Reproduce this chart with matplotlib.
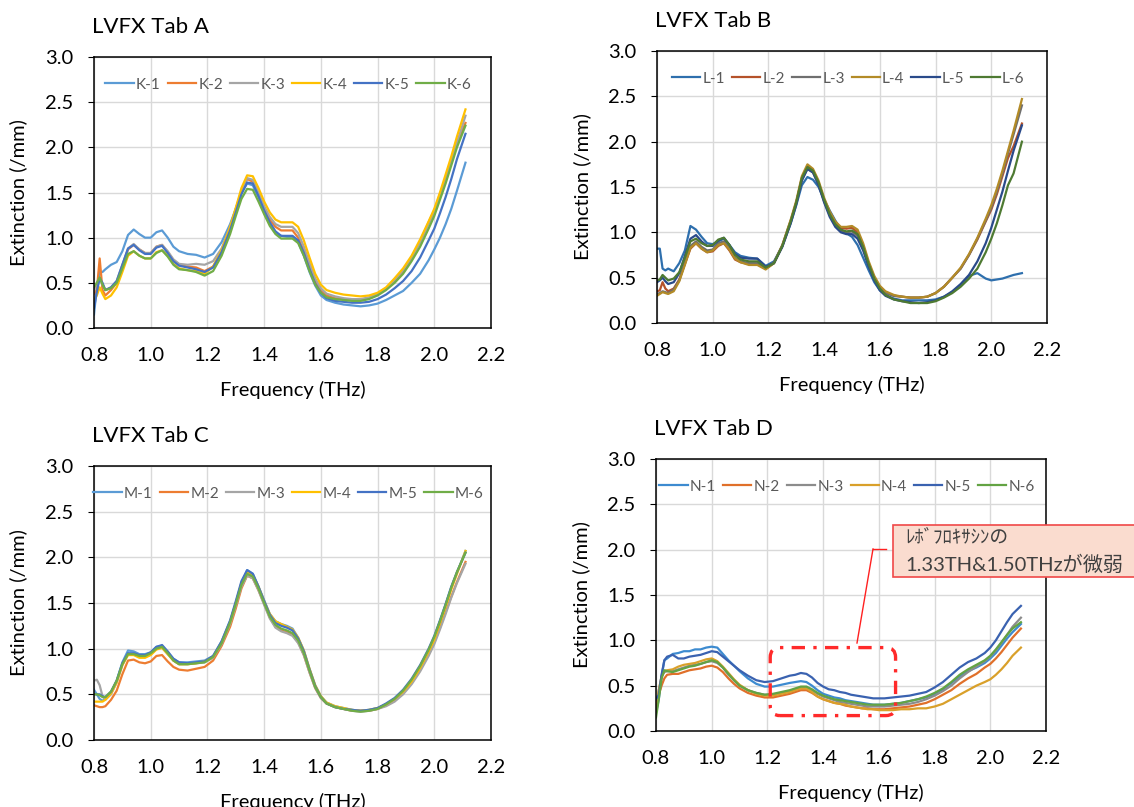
"""Extinction spectra of four LVFX tablets (A-D), six samples each."""

import matplotlib
matplotlib.use("Agg")
import matplotlib.pyplot as plt
from matplotlib.lines import Line2D
from matplotlib.patches import FancyBboxPatch, Rectangle

plt.rcParams["font.family"] = ["Lato", "Noto Sans CJK JP", "DejaVu Sans"]

# shared frequency grid (THz)
FREQ = [0.80, 0.81, 0.82, 0.83, 0.84, 0.86, 0.88, 0.90, 0.92, 0.94,
        0.96, 0.98, 1.00, 1.02, 1.04, 1.06, 1.08, 1.10, 1.13, 1.16,
        1.19, 1.22, 1.25, 1.28, 1.30, 1.32, 1.34, 1.36, 1.38, 1.40,
        1.42, 1.44, 1.46, 1.48, 1.50, 1.52, 1.54, 1.56, 1.58, 1.60,
        1.62, 1.65, 1.68, 1.71, 1.74, 1.77, 1.80, 1.83, 1.86, 1.89,
        1.92, 1.95, 1.98, 2.00, 2.02, 2.04, 2.06, 2.08, 2.11]

# --- Tab A ---
K1 = [0.15, 0.45, 0.62, 0.62, 0.65, 0.70, 0.73, 0.85, 1.03, 1.09,
      1.04, 1.00, 1.00, 1.06, 1.08, 1.00, 0.90, 0.85, 0.82, 0.81,
      0.78, 0.82, 0.95, 1.15, 1.32, 1.50, 1.60, 1.58, 1.45, 1.30,
      1.15, 1.05, 1.02, 1.01, 1.01, 0.95, 0.80, 0.62, 0.47, 0.36,
      0.31, 0.28, 0.26, 0.25, 0.24, 0.25, 0.27, 0.31, 0.36, 0.41,
      0.50, 0.60, 0.75, 0.87, 1.00, 1.15, 1.32, 1.52, 1.83]
K2 = [0.38, 0.42, 0.77, 0.42, 0.36, 0.42, 0.50, 0.68, 0.87, 0.92,
      0.87, 0.83, 0.83, 0.90, 0.92, 0.84, 0.75, 0.70, 0.68, 0.67,
      0.63, 0.68, 0.85, 1.10, 1.30, 1.50, 1.65, 1.62, 1.48, 1.32,
      1.20, 1.12, 1.08, 1.08, 1.08, 1.00, 0.85, 0.68, 0.52, 0.42,
      0.36, 0.33, 0.32, 0.31, 0.31, 0.33, 0.37, 0.43, 0.52, 0.63,
      0.78, 0.95, 1.17, 1.30, 1.48, 1.65, 1.85, 2.05, 2.27]
K3 = [0.42, 0.50, 0.55, 0.48, 0.42, 0.45, 0.52, 0.70, 0.88, 0.93,
      0.87, 0.83, 0.83, 0.90, 0.92, 0.85, 0.76, 0.71, 0.70, 0.71,
      0.70, 0.74, 0.88, 1.12, 1.32, 1.52, 1.66, 1.64, 1.50, 1.35,
      1.23, 1.15, 1.12, 1.12, 1.12, 1.05, 0.90, 0.72, 0.55, 0.44,
      0.38, 0.35, 0.33, 0.32, 0.32, 0.34, 0.38, 0.44, 0.53, 0.64,
      0.78, 0.95, 1.15, 1.28, 1.45, 1.63, 1.83, 2.05, 2.35]
K4 = [0.30, 0.36, 0.45, 0.38, 0.32, 0.36, 0.45, 0.62, 0.80, 0.85,
      0.80, 0.77, 0.77, 0.84, 0.86, 0.80, 0.71, 0.66, 0.64, 0.63,
      0.60, 0.68, 0.86, 1.12, 1.33, 1.55, 1.69, 1.68, 1.55, 1.40,
      1.28, 1.20, 1.17, 1.17, 1.17, 1.12, 0.97, 0.78, 0.60, 0.48,
      0.42, 0.39, 0.37, 0.36, 0.35, 0.36, 0.39, 0.45, 0.55, 0.66,
      0.80, 0.98, 1.18, 1.32, 1.50, 1.70, 1.90, 2.12, 2.42]
K5 = [0.22, 0.40, 0.55, 0.50, 0.42, 0.45, 0.52, 0.70, 0.88, 0.92,
      0.86, 0.82, 0.82, 0.89, 0.91, 0.83, 0.74, 0.69, 0.67, 0.65,
      0.62, 0.67, 0.84, 1.08, 1.28, 1.48, 1.61, 1.60, 1.46, 1.30,
      1.17, 1.07, 1.02, 1.02, 1.02, 0.97, 0.83, 0.65, 0.49, 0.39,
      0.33, 0.30, 0.29, 0.28, 0.28, 0.29, 0.32, 0.37, 0.44, 0.52,
      0.63, 0.78, 0.97, 1.10, 1.27, 1.45, 1.65, 1.87, 2.15]
K6 = [0.45, 0.50, 0.56, 0.48, 0.42, 0.44, 0.50, 0.66, 0.82, 0.85,
      0.80, 0.77, 0.77, 0.83, 0.86, 0.79, 0.70, 0.65, 0.64, 0.62,
      0.58, 0.63, 0.80, 1.04, 1.24, 1.43, 1.54, 1.53, 1.40, 1.26,
      1.13, 1.04, 0.99, 0.99, 0.99, 0.94, 0.80, 0.63, 0.48, 0.39,
      0.34, 0.32, 0.31, 0.30, 0.30, 0.32, 0.36, 0.42, 0.50, 0.60,
      0.74, 0.90, 1.10, 1.24, 1.42, 1.60, 1.80, 2.00, 2.24]

# --- Tab B ---
L1 = [0.82, 0.82, 0.60, 0.58, 0.60, 0.57, 0.66, 0.80, 1.07, 1.03,
      0.95, 0.88, 0.87, 0.90, 0.93, 0.86, 0.78, 0.74, 0.72, 0.71,
      0.63, 0.68, 0.85, 1.10, 1.30, 1.52, 1.61, 1.58, 1.50, 1.36,
      1.24, 1.13, 1.03, 0.99, 0.95, 0.86, 0.72, 0.58, 0.45, 0.36,
      0.31, 0.27, 0.25, 0.25, 0.25, 0.25, 0.26, 0.29, 0.34, 0.41,
      0.52, 0.55, 0.49, 0.47, 0.48, 0.49, 0.51, 0.53, 0.55]
L2 = [0.35, 0.36, 0.45, 0.38, 0.35, 0.38, 0.48, 0.65, 0.82, 0.88,
      0.82, 0.78, 0.79, 0.85, 0.88, 0.80, 0.70, 0.67, 0.65, 0.65,
      0.60, 0.66, 0.85, 1.12, 1.33, 1.60, 1.73, 1.68, 1.55, 1.35,
      1.20, 1.10, 1.05, 1.04, 1.05, 1.00, 0.85, 0.66, 0.50, 0.40,
      0.34, 0.30, 0.29, 0.28, 0.28, 0.29, 0.33, 0.40, 0.50, 0.60,
      0.75, 0.92, 1.12, 1.25, 1.42, 1.62, 1.82, 1.95, 2.20]
L3 = [0.32, 0.33, 0.35, 0.34, 0.33, 0.37, 0.47, 0.66, 0.85, 0.90,
      0.84, 0.80, 0.81, 0.88, 0.90, 0.82, 0.72, 0.68, 0.66, 0.66,
      0.60, 0.67, 0.86, 1.13, 1.33, 1.58, 1.70, 1.66, 1.53, 1.34,
      1.19, 1.08, 1.02, 1.00, 1.01, 0.96, 0.82, 0.64, 0.49, 0.39,
      0.33, 0.30, 0.29, 0.28, 0.28, 0.29, 0.33, 0.40, 0.50, 0.60,
      0.75, 0.93, 1.13, 1.27, 1.45, 1.65, 1.87, 2.08, 2.40]
L4 = [0.30, 0.32, 0.34, 0.33, 0.32, 0.35, 0.46, 0.64, 0.83, 0.88,
      0.82, 0.78, 0.80, 0.86, 0.88, 0.81, 0.71, 0.67, 0.64, 0.64,
      0.59, 0.66, 0.86, 1.14, 1.35, 1.62, 1.75, 1.70, 1.57, 1.38,
      1.23, 1.12, 1.06, 1.06, 1.07, 1.03, 0.88, 0.68, 0.52, 0.41,
      0.35, 0.31, 0.29, 0.28, 0.28, 0.29, 0.33, 0.40, 0.50, 0.61,
      0.76, 0.94, 1.15, 1.30, 1.48, 1.68, 1.90, 2.12, 2.47]
L5 = [0.45, 0.47, 0.50, 0.46, 0.43, 0.45, 0.55, 0.74, 0.93, 0.97,
      0.90, 0.85, 0.85, 0.91, 0.94, 0.86, 0.76, 0.72, 0.71, 0.71,
      0.62, 0.66, 0.84, 1.10, 1.31, 1.57, 1.70, 1.66, 1.52, 1.33,
      1.17, 1.06, 1.00, 0.98, 0.98, 0.93, 0.80, 0.62, 0.47, 0.36,
      0.30, 0.26, 0.24, 0.23, 0.22, 0.23, 0.25, 0.29, 0.35, 0.43,
      0.53, 0.68, 0.88, 1.05, 1.25, 1.45, 1.68, 1.90, 2.18]
L6 = [0.47, 0.48, 0.53, 0.50, 0.47, 0.49, 0.56, 0.72, 0.90, 0.93,
      0.88, 0.85, 0.86, 0.92, 0.94, 0.86, 0.75, 0.70, 0.68, 0.68,
      0.61, 0.66, 0.85, 1.12, 1.33, 1.60, 1.72, 1.68, 1.55, 1.36,
      1.20, 1.09, 1.03, 1.01, 1.02, 0.98, 0.84, 0.65, 0.49, 0.38,
      0.31, 0.26, 0.24, 0.22, 0.22, 0.22, 0.24, 0.28, 0.33, 0.40,
      0.49, 0.60, 0.78, 0.93, 1.10, 1.30, 1.52, 1.65, 2.00]

# --- Tab C ---
M1 = [0.55, 0.50, 0.45, 0.43, 0.45, 0.52, 0.65, 0.85, 0.98, 0.97,
      0.94, 0.94, 0.96, 1.02, 1.03, 0.96, 0.89, 0.85, 0.85, 0.86,
      0.87, 0.92, 1.08, 1.30, 1.50, 1.72, 1.86, 1.82, 1.68, 1.53,
      1.38, 1.30, 1.27, 1.25, 1.22, 1.12, 0.98, 0.78, 0.60, 0.48,
      0.41, 0.37, 0.35, 0.33, 0.32, 0.33, 0.35, 0.39, 0.45, 0.53,
      0.65, 0.80, 0.98, 1.12, 1.30, 1.48, 1.67, 1.83, 2.07]
M2 = [0.38, 0.37, 0.36, 0.36, 0.37, 0.44, 0.54, 0.72, 0.87, 0.88,
      0.85, 0.84, 0.86, 0.92, 0.93, 0.86, 0.80, 0.77, 0.76, 0.78,
      0.80, 0.87, 1.03, 1.24, 1.44, 1.66, 1.80, 1.77, 1.64, 1.49,
      1.34, 1.24, 1.20, 1.18, 1.15, 1.07, 0.93, 0.74, 0.57, 0.46,
      0.40, 0.36, 0.34, 0.32, 0.32, 0.32, 0.34, 0.38, 0.44, 0.52,
      0.63, 0.77, 0.94, 1.07, 1.23, 1.40, 1.57, 1.73, 1.95]
M3 = [0.65, 0.66, 0.60, 0.48, 0.44, 0.50, 0.63, 0.82, 0.94, 0.94,
      0.91, 0.91, 0.94, 1.00, 1.01, 0.94, 0.87, 0.83, 0.83, 0.84,
      0.85, 0.90, 1.05, 1.27, 1.47, 1.68, 1.80, 1.77, 1.64, 1.48,
      1.33, 1.23, 1.19, 1.17, 1.14, 1.06, 0.93, 0.74, 0.57, 0.46,
      0.40, 0.36, 0.34, 0.32, 0.31, 0.32, 0.34, 0.37, 0.42, 0.50,
      0.61, 0.75, 0.92, 1.05, 1.21, 1.38, 1.56, 1.72, 1.93]
M4 = [0.42, 0.42, 0.42, 0.42, 0.44, 0.51, 0.63, 0.82, 0.93, 0.93,
      0.90, 0.90, 0.93, 0.99, 1.01, 0.94, 0.87, 0.83, 0.83, 0.84,
      0.86, 0.91, 1.07, 1.29, 1.50, 1.72, 1.84, 1.81, 1.68, 1.52,
      1.38, 1.30, 1.27, 1.24, 1.21, 1.12, 0.98, 0.78, 0.60, 0.48,
      0.41, 0.37, 0.35, 0.33, 0.32, 0.33, 0.35, 0.39, 0.45, 0.53,
      0.64, 0.79, 0.97, 1.10, 1.28, 1.46, 1.65, 1.82, 2.07]
M5 = [0.50, 0.50, 0.50, 0.48, 0.47, 0.53, 0.65, 0.84, 0.95, 0.95,
      0.93, 0.93, 0.96, 1.02, 1.04, 0.97, 0.89, 0.85, 0.84, 0.85,
      0.86, 0.92, 1.08, 1.31, 1.52, 1.74, 1.86, 1.82, 1.68, 1.52,
      1.37, 1.28, 1.25, 1.23, 1.20, 1.11, 0.97, 0.77, 0.59, 0.47,
      0.40, 0.36, 0.34, 0.33, 0.32, 0.33, 0.35, 0.40, 0.46, 0.55,
      0.67, 0.82, 1.00, 1.14, 1.31, 1.49, 1.68, 1.84, 2.05]
M6 = [0.50, 0.50, 0.49, 0.47, 0.47, 0.53, 0.65, 0.83, 0.94, 0.94,
      0.92, 0.92, 0.95, 1.00, 1.02, 0.95, 0.87, 0.83, 0.83, 0.84,
      0.85, 0.91, 1.06, 1.29, 1.49, 1.70, 1.82, 1.79, 1.66, 1.50,
      1.35, 1.26, 1.22, 1.20, 1.17, 1.09, 0.95, 0.76, 0.58, 0.47,
      0.40, 0.36, 0.34, 0.32, 0.31, 0.32, 0.34, 0.39, 0.45, 0.54,
      0.66, 0.81, 0.99, 1.13, 1.30, 1.48, 1.67, 1.84, 2.05]

# --- Tab D ---
N1 = [0.20, 0.35, 0.60, 0.78, 0.80, 0.85, 0.86, 0.88, 0.88, 0.90,
      0.90, 0.92, 0.93, 0.92, 0.85, 0.78, 0.72, 0.66, 0.58, 0.52,
      0.49, 0.49, 0.51, 0.53, 0.54, 0.55, 0.54, 0.50, 0.45, 0.41,
      0.39, 0.37, 0.36, 0.34, 0.33, 0.32, 0.31, 0.30, 0.29, 0.29,
      0.29, 0.30, 0.31, 0.33, 0.35, 0.37, 0.41, 0.46, 0.53, 0.60,
      0.66, 0.70, 0.75, 0.80, 0.86, 0.94, 1.02, 1.09, 1.18]
N2 = [0.30, 0.40, 0.50, 0.58, 0.62, 0.63, 0.63, 0.65, 0.67, 0.68,
      0.69, 0.71, 0.72, 0.70, 0.65, 0.58, 0.52, 0.47, 0.42, 0.39,
      0.37, 0.37, 0.39, 0.41, 0.43, 0.45, 0.45, 0.42, 0.38, 0.35,
      0.33, 0.31, 0.30, 0.28, 0.27, 0.26, 0.25, 0.25, 0.24, 0.24,
      0.24, 0.25, 0.26, 0.27, 0.29, 0.31, 0.35, 0.40, 0.45, 0.52,
      0.58, 0.63, 0.70, 0.74, 0.80, 0.87, 0.95, 1.03, 1.13]
N3 = [0.25, 0.45, 0.60, 0.65, 0.66, 0.66, 0.68, 0.70, 0.72, 0.73,
      0.74, 0.76, 0.77, 0.75, 0.70, 0.62, 0.56, 0.50, 0.45, 0.42,
      0.40, 0.40, 0.42, 0.44, 0.46, 0.48, 0.48, 0.45, 0.41, 0.38,
      0.36, 0.34, 0.32, 0.31, 0.30, 0.29, 0.28, 0.27, 0.27, 0.27,
      0.27, 0.28, 0.29, 0.30, 0.32, 0.35, 0.39, 0.44, 0.50, 0.58,
      0.65, 0.71, 0.77, 0.82, 0.89, 0.97, 1.06, 1.15, 1.25]
N4 = [0.22, 0.45, 0.60, 0.66, 0.67, 0.68, 0.71, 0.73, 0.74, 0.75,
      0.77, 0.79, 0.80, 0.77, 0.71, 0.64, 0.57, 0.51, 0.45, 0.41,
      0.39, 0.39, 0.41, 0.43, 0.45, 0.47, 0.47, 0.43, 0.38, 0.35,
      0.33, 0.31, 0.30, 0.29, 0.27, 0.26, 0.25, 0.24, 0.24, 0.23,
      0.23, 0.23, 0.24, 0.24, 0.25, 0.25, 0.27, 0.30, 0.35, 0.40,
      0.45, 0.50, 0.54, 0.57, 0.62, 0.68, 0.75, 0.83, 0.92]
N5 = [0.35, 0.40, 0.62, 0.78, 0.82, 0.84, 0.80, 0.80, 0.82, 0.83,
      0.84, 0.86, 0.88, 0.87, 0.82, 0.77, 0.72, 0.67, 0.61, 0.56,
      0.54, 0.55, 0.58, 0.61, 0.62, 0.64, 0.63, 0.59, 0.53, 0.49,
      0.46, 0.45, 0.43, 0.42, 0.40, 0.39, 0.38, 0.37, 0.36, 0.36,
      0.36, 0.37, 0.38, 0.39, 0.41, 0.43, 0.48, 0.54, 0.62, 0.70,
      0.76, 0.80, 0.86, 0.92, 1.00, 1.10, 1.20, 1.29, 1.38]
N6 = [0.15, 0.35, 0.58, 0.67, 0.66, 0.65, 0.67, 0.69, 0.71, 0.72,
      0.74, 0.76, 0.78, 0.76, 0.70, 0.63, 0.56, 0.50, 0.45, 0.42,
      0.40, 0.41, 0.43, 0.45, 0.47, 0.49, 0.49, 0.46, 0.42, 0.39,
      0.37, 0.35, 0.34, 0.33, 0.32, 0.31, 0.30, 0.29, 0.29, 0.29,
      0.29, 0.30, 0.31, 0.33, 0.35, 0.38, 0.42, 0.47, 0.54, 0.62,
      0.68, 0.73, 0.78, 0.83, 0.90, 0.98, 1.06, 1.13, 1.20]

LABELS_A = ["K-1", "K-2", "K-3", "K-4", "K-5", "K-6"]
LABELS_B = ["L-1", "L-2", "L-3", "L-4", "L-5", "L-6"]
LABELS_C = ["M-1", "M-2", "M-3", "M-4", "M-5", "M-6"]
LABELS_D = ["N-1", "N-2", "N-3", "N-4", "N-5", "N-6"]

COLOURS_LIGHT = ["#5B9BD5", "#ED7D31", "#A5A5A5", "#FFC000", "#4472C4", "#70AD47"]
COLOURS_DARK = ["#2E6FAD", "#B5522A", "#6F6F6F", "#B38B27", "#2A4A8A", "#4E7A32"]
COLOURS_D = ["#3D8BD0", "#E0702A", "#8C8C8C", "#D9A02A", "#3A62B0", "#63A343"]

XTICKS = [0.8, 1.0, 1.2, 1.4, 1.6, 1.8, 2.0, 2.2]
YTICKS = [0.0, 0.5, 1.0, 1.5, 2.0, 2.5, 3.0]


def draw_panel(ax, series, labels, colours, title):
    for ys, lab, col in zip(series, labels, colours):
        ax.plot(FREQ, ys, color=col, linewidth=1.6, label=lab)
    ax.set_xlim(0.8, 2.2)
    ax.set_ylim(0, 3.0)
    ax.set_xticks(XTICKS)
    ax.set_xticklabels([f"{t:.1f}" for t in XTICKS])
    ax.set_yticks(YTICKS)
    ax.set_yticklabels([f"{t:.1f}" for t in YTICKS])
    ax.tick_params(axis="both", labelsize=14.5, colors="black")
    ax.tick_params(axis="x", length=0, pad=14)
    ax.tick_params(axis="y", length=4, pad=11)
    ax.grid(True, color="#D9D9D9", linewidth=1.0)
    ax.set_axisbelow(True)
    for sp in ax.spines.values():
        sp.set_color("black")
        sp.set_linewidth(1.1)
    ax.set_xlabel("Frequency (THz)", fontsize=14.5)
    ax.set_ylabel("Extinction (/mm)", fontsize=14.5)
    ax.xaxis.set_label_coords(0.5, -0.195)
    ax.yaxis.set_label_coords(-0.168, 0.5)
    ax.text(-0.005, 1.11, title, transform=ax.transAxes, fontsize=16,
            ha="left", va="center")
    ax.legend(loc="upper center", bbox_to_anchor=(0.49, 0.975), ncol=6,
              frameon=False, fontsize=11, handlelength=1.85,
              handletextpad=0.15, columnspacing=0.45, labelcolor="#595959")


fig = plt.figure(figsize=(11.34, 8.07), dpi=100)
ax_a = fig.add_axes([94 / 1134, 1 - 328 / 807, 397 / 1134, 271 / 807])
ax_b = fig.add_axes([657 / 1134, 1 - 323 / 807, 390 / 1134, 272 / 807])
ax_c = fig.add_axes([94 / 1134, 1 - 740 / 807, 397 / 1134, 274 / 807])
ax_d = fig.add_axes([656 / 1134, 1 - 731 / 807, 390 / 1134, 272 / 807])

draw_panel(ax_a, [K1, K2, K3, K4, K5, K6], LABELS_A, COLOURS_LIGHT, "LVFX Tab A")
draw_panel(ax_b, [L1, L2, L3, L4, L5, L6], LABELS_B, COLOURS_DARK, "LVFX Tab B")
draw_panel(ax_c, [M1, M2, M3, M4, M5, M6], LABELS_C, COLOURS_LIGHT, "LVFX Tab C")
draw_panel(ax_d, [N1, N2, N3, N4, N5, N6], LABELS_D, COLOURS_D, "LVFX Tab D")

# highlighted region in Tab D (dash-dot rounded box)
ax_d.add_patch(FancyBboxPatch((1.21, 0.17), 0.45, 0.75,
                              boxstyle="round,pad=0,rounding_size=0.035",
                              mutation_aspect=3.07, fill=False,
                              edgecolor="#FF2A2A", linewidth=2.4,
                              linestyle=(0, (4, 2.5, 1, 2.5)), zorder=5))

# callout box
fig.patches.append(Rectangle((893 / 1134, 1 - 577 / 807), 0.25, 52 / 807,
                             transform=fig.transFigure, facecolor="#FADCCF",
                             edgecolor="#F04848", linewidth=1.2, zorder=6))
fig.text(905 / 1134, 1 - 537 / 807, "ﾚﾎﾞﾌﾛｷｻｼﾝの", fontsize=13.5,
         color="#404040", ha="left", va="center", zorder=7)
fig.text(905 / 1134, 1 - 564 / 807, "1.33TH&1.50THzが微弱", fontsize=14.5,
         color="#404040", ha="left", va="center", zorder=7)
fig.lines.append(Line2D([873 / 1134, 886 / 1134], [1 - 549 / 807, 1 - 549 / 807],
                        transform=fig.transFigure, color="#FF2020", linewidth=1.0))
fig.lines.append(Line2D([873 / 1134, 857 / 1134], [1 - 549 / 807, 1 - 643 / 807],
                        transform=fig.transFigure, color="#FF2020", linewidth=1.0))

fig.savefig("out.png", dpi=100)
plt.close(fig)
